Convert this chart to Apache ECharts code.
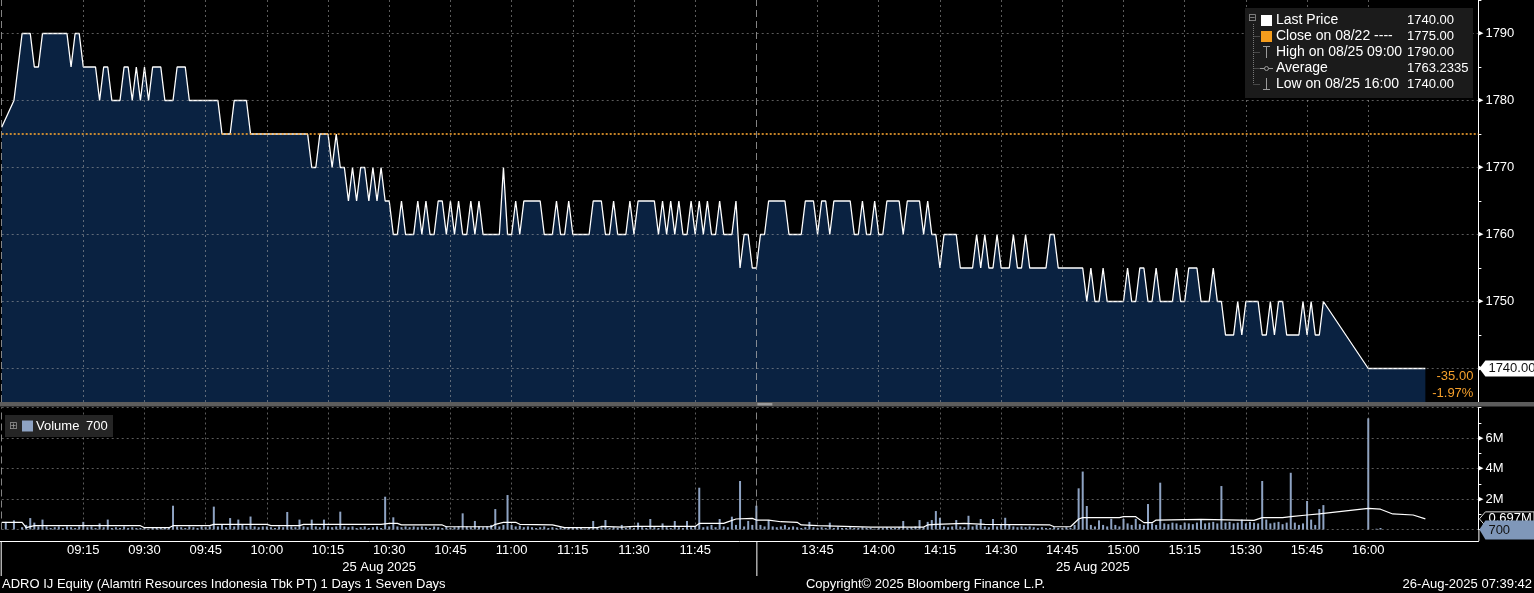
<!DOCTYPE html>
<html><head><meta charset="utf-8">
<script src="https://cdn.jsdelivr.net/npm/echarts@6/dist/echarts.min.js"></script>
<style>html,body{margin:0;padding:0;background:#000;overflow:hidden}#c{width:1534px;height:593px;}</style>
</head><body><div id="c"></div>
<script>
// ---------------- DATA ----------------
// Session layout (lunch break removed): 08:55 .. 12:00 | 13:31 .. 16:27
const amStart = '08:55', amEnd = '12:00', pmStart = '13:31', pmEnd = '16:27';
const tickLabels = ['09:15','09:30','09:45','10:00','10:15','10:30','10:45','11:00','11:15','11:30','11:45',
                    '13:45','14:00','14:15','14:30','14:45','15:00','15:15','15:30','15:45','16:00'];
const priceTicks = [1740, 1750, 1760, 1770, 1780, 1790];
const volumeTicks = [2, 4, 6];
const closePrice = 1775;
const averagePrice = '1763.2335';
const dateLabel = '25 Aug 2025';

// price path vertices (time, price)
const priceTimes = ['08:55','08:58','09:00','09:02','09:03','09:04','09:05','09:11','09:12','09:13','09:14','09:15','09:18','09:19','09:20','09:21','09:22','09:24','09:25','09:26','09:27','09:28','09:29','09:30','09:31','09:32','09:34','09:35','09:37','09:38','09:40','09:41','09:48','09:49','09:51','09:52','09:55','09:56',
'10:10','10:11','10:12','10:13','10:15','10:16','10:17','10:18','10:19','10:20','10:21','10:22','10:23','10:24','10:25','10:26','10:27','10:28','10:29','10:30','10:31','10:32','10:33','10:34','10:36','10:37','10:38','10:39','10:40','10:41','10:42','10:43','10:44','10:45','10:46','10:47','10:48','10:49','10:50','10:51','10:52','10:53','10:57','10:58','10:59',
'11:00','11:01','11:02','11:03','11:07','11:08','11:10','11:11','11:12','11:13','11:14','11:15','11:19','11:20','11:22','11:23','11:24','11:25','11:26','11:28','11:29','11:30','11:31','11:35','11:36','11:37','11:38','11:39','11:40','11:41','11:42','11:43','11:44','11:45','11:46','11:47','11:48','11:49','11:50','11:51','11:52','11:54','11:55','11:56','11:57','11:58','11:59','12:00',
'13:31','13:32','13:33','13:37','13:38','13:41','13:42','13:44','13:45','13:46','13:47','13:48','13:49','13:53','13:54','13:55','13:56','13:57','13:58','13:59','14:00','14:01','14:02','14:05','14:06','14:07','14:10','14:11','14:12','14:13','14:14','14:15','14:16','14:19','14:20','14:23','14:24','14:25','14:26','14:27','14:28','14:29','14:30','14:32','14:33','14:34','14:35','14:36','14:37','14:41','14:42','14:43','14:44','14:50','14:51','14:52','14:53','14:54','14:55','14:56',
'15:00','15:01','15:02','15:03','15:04','15:05','15:06','15:07','15:08','15:09','15:12','15:13','15:14','15:15','15:16','15:18','15:19','15:21','15:22','15:23','15:24','15:25','15:27','15:28','15:29','15:30','15:33','15:34','15:35','15:36','15:37','15:38','15:39','15:40','15:43','15:44','15:45','15:46','15:47','15:48','15:49','16:00','16:14'];
const priceValues = [1776,1780,1790,1790,1785,1785,1790,1790,1785,1790,1790,1785,1785,1780,1785,1785,1780,1780,1785,1785,1780,1785,1780,1785,1780,1785,1785,1780,1780,1785,1785,1780,1780,1775,1775,1780,1780,1775,
1775,1770,1770,1775,1775,1770,1775,1770,1770,1765,1770,1765,1770,1770,1765,1770,1765,1770,1765,1765,1760,1760,1765,1760,1760,1765,1760,1765,1760,1760,1765,1765,1760,1765,1760,1765,1760,1760,1765,1760,1765,1760,1760,1770,1760,
1760,1765,1760,1765,1765,1760,1760,1765,1760,1760,1765,1760,1760,1765,1765,1760,1760,1765,1760,1760,1765,1760,1765,1765,1760,1765,1760,1765,1760,1765,1760,1760,1765,1760,1765,1760,1765,1760,1760,1765,1760,1760,1765,1755,1760,1760,1755,1755,
1760,1760,1765,1765,1760,1760,1765,1765,1760,1765,1765,1760,1765,1765,1760,1760,1765,1760,1760,1765,1760,1760,1765,1765,1760,1765,1765,1760,1765,1760,1760,1755,1760,1760,1755,1755,1760,1755,1760,1755,1755,1760,1755,1755,1760,1755,1755,1760,1755,1755,1760,1760,1755,1755,1750,1755,1750,1750,1755,1750,
1750,1755,1750,1750,1755,1755,1750,1750,1755,1750,1750,1755,1750,1750,1755,1755,1750,1750,1755,1750,1750,1745,1745,1750,1745,1750,1750,1745,1745,1750,1745,1750,1750,1745,1745,1750,1745,1750,1745,1745,1750,1740,1740];

// volume per minute (millions), starting 08:55
const volumeValues = [
0,0.5,0,0.6,0,
0.15,0.3,0.75,0.45,0.2,0.65,0.2,0.1,0.15,0.2,0.1,0.2,0.15,0.1,0.2,
0.5,0.15,0.2,0.1,0.4,0.15,0.65,0.1,0.15,0.1,0.2,0.1,0.15,0.1,0.1,
0.1,0.05,0.1,0.15,0.1,0.1,0.15,1.56,0.2,0.15,0.1,0.2,0.15,0.1,0.2,
0.15,0.2,1.5,0.2,0.3,0.15,0.75,0.2,0.65,0.3,0.2,0.85,0.2,0.15,0.2,
0.2,0.15,0.1,0.2,0.15,1.15,0.2,0.15,0.65,0.2,0.15,0.65,0.2,0.15,0.65,
0.2,0.15,0.2,1.17,0.2,0.15,0.2,0.1,0.15,0.2,0.1,0.15,0.2,0.1,2.15,
0.2,0.8,0.2,0.15,0.2,0.15,0.2,0.15,0.2,0.15,0.1,0.2,0.15,0.1,0.2,
0.1,0.15,0.2,1.06,0.2,0.15,0.56,0.2,0.15,0.2,0.3,1.34,0.2,0.3,2.26,
0.3,0.2,0.25,0.15,0.2,0.15,0.1,0.15,0.2,0.1,0.15,0.1,0.15,0.1,0.1,
0.1,0.15,0.1,0.05,0.1,0.56,0.1,0.15,0.62,0.1,0.15,0.1,0.3,0.1,0.15,
0.1,0.45,0.15,0.1,0.69,0.15,0.1,0.4,0.15,0.1,0.56,0.15,0.1,0.56,0.15,
0.2,2.74,0.15,0.2,0.3,0.15,0.69,0.2,0.15,0.84,0.3,3.18,0.2,0.56,0.3,
1.56,
0.3,0.2,0.62,0.2,0.15,0.2,0.3,0.15,0.2,0.15,0.1,0.15,0.5,0.15,0.1,
0.15,0.1,0.45,0.1,0.15,0.1,0.1,0.15,0.1,0.1,0.15,0.1,0.1,0.05,0.1,
0.1,0.15,0.1,0.1,0.15,0.56,0.1,0.15,0.2,0.62,0.15,0.5,0.62,1.21,0.77,
0.2,0.15,0.2,0.62,0.2,0.15,0.9,0.2,0.3,0.69,0.2,0.15,0.69,0.2,0.3,
0.77,0.3,0.2,0.15,0.2,0.15,0.2,0.15,0.1,0.15,0.1,0.1,0.15,0.1,0.1,
0.15,0.1,0.3,2.7,3.8,1.54,0.3,0.2,0.6,0.3,0.2,0.7,0.3,0.2,0.7,
0.4,0.3,0.7,0.35,0.3,1.67,0.4,0.3,3.07,0.4,0.35,0.45,0.4,0.3,0.45,
0.4,0.35,0.45,0.65,0.4,0.45,0.5,0.4,2.85,0.45,0.5,0.4,0.45,0.65,0.4,
0.5,0.45,0.4,3.18,0.65,0.4,0.45,0.5,0.35,0.45,3.72,0.45,0.3,0.4,1.87,
0.65,0.3,1.34,1.6,0,0,0,0,0,0,0,0,0,0,7.29,
0,0.05,0.1,0,0,0,0,0,0,0,0,0,0,0.0007];

// volume moving-average line vertices (time, millions)
const maTimes = ['08:55','09:00','09:01','09:03','09:29','09:30','09:36','09:37','09:46','09:47','10:00','10:01','10:08','10:09','10:28','10:30','10:32','10:33','10:43','10:44','10:55','10:56','10:58','11:01','11:02','11:10','11:13','11:21','11:22','11:27','11:30','11:45','11:46','11:52','11:53','11:55','11:59','12:00',
'13:33','13:36','13:40','13:41','13:45','13:58','14:11','14:12','14:14','14:21','14:26','14:42','14:43','14:47','14:49','14:50','14:59','15:00','15:03','15:05','15:07','15:08','15:19','15:32','15:34','15:39','15:41','15:45','15:48','16:00','16:03','16:06','16:11','16:14'];
const maValues = [0.47,0.47,0.12,0.25,0.25,0.12,0.12,0.25,0.25,0.34,0.34,0.25,0.25,0.34,0.34,0.4,0.4,0.3,0.3,0.18,0.18,0.34,0.47,0.47,0.34,0.3,0.12,0.12,0.2,0.15,0.2,0.2,0.4,0.4,0.5,0.69,0.73,0.62,
0.62,0.51,0.47,0.3,0.26,0.16,0.16,0.3,0.34,0.4,0.34,0.3,0.18,0.18,0.69,0.78,0.78,0.84,0.84,0.45,0.45,0.62,0.67,0.6,0.78,0.78,0.84,0.95,1.02,1.39,1.33,1.02,0.95,0.697];

const footerLeft = 'ADRO IJ Equity (Alamtri Resources Indonesia Tbk PT) 1 Days 1 Seven Days';
const footerMid = 'Copyright\u00a9 2025 Bloomberg Finance L.P.';
const footerRight = '26-Aug-2025 07:39:42';

// ---------------- BUILD ----------------
function toMin(s){const p=s.split(':');return +p[0]*60+ +p[1];}
function hm(m){const h=Math.floor(m/60),mm=m%60;return (h<10?'0':'')+h+':'+(mm<10?'0':'')+mm;}
const categories=[];
for(let m=toMin(amStart);m<=toMin(amEnd);m++)categories.push(hm(m));
for(let m=toMin(pmStart);m<=toMin(pmEnd);m++)categories.push(hm(m));
const ci = s => categories.indexOf(s);

const pricePairs = priceTimes.map((t,i)=>[ci(t), priceValues[i]]);
const maPairs = maTimes.map((t,i)=>[ci(t), maValues[i]]);
const volumeData = volumeValues.slice();

const lastPrice = priceValues[priceValues.length-1];
const highPrice = Math.max(...priceValues), lowPrice = Math.min(...priceValues);
const highTime = priceTimes[priceValues.indexOf(highPrice)];
const lowTime = priceTimes[priceValues.indexOf(lowPrice)];
const lastVol = volumeValues[volumeValues.length-1];
const lastMA = maValues[maValues.length-1];
const change = lastPrice - closePrice;
const changePct = change / closePrice * 100;

const FONT = "'Liberation Sans', Arial, sans-serif";
const gridStyle = {color:'rgba(165,165,165,0.55)', type:[2,3], width:1};
const sepStyle = {color:'rgba(175,175,175,0.75)', type:[7,4], width:1};
const showTick = (idx, val) => tickLabels.indexOf(val) >= 0;

const option = {
  backgroundColor:'#000',
  animation:false,
  grid:[{left:1.7,right:55.6,top:0,height:402},{left:1.7,right:55.6,top:407.5,height:122}],
  xAxis:[
    {type:'category',gridIndex:0,data:categories,boundaryGap:false,axisLine:{show:false},axisTick:{show:false},axisLabel:{show:false},
     splitLine:{show:true,interval:showTick,lineStyle:gridStyle},z:3},
    {type:'category',gridIndex:1,data:categories,boundaryGap:false,offset:11.5,axisLine:{show:false},axisTick:{show:false},
     axisLabel:{show:true,interval:showTick,color:'#fff',fontSize:13,fontFamily:FONT,margin:3},
     splitLine:{show:true,interval:showTick,lineStyle:gridStyle},z:3}
  ],
  yAxis:[
    {type:'value',gridIndex:0,position:'right',min:1735,max:1795,interval:5,
     axisLine:{show:true,lineStyle:{color:'#fff',width:1}},axisTick:{show:true,length:3,lineStyle:{color:'#fff'}},
     axisLabel:{margin:0,formatter:v=>priceTicks.indexOf(v)>=0?'{a|\u25B6}{b|'+v+'}':'',
       rich:{a:{fontSize:7,color:'#fff',padding:[0,2,0,0]},b:{fontSize:13,color:'#fff',fontFamily:FONT}}},
     splitLine:{show:false}},
    {type:'value',gridIndex:1,position:'right',min:0,max:8,interval:2,
     axisLine:{show:true,lineStyle:{color:'#fff',width:1}},axisTick:{show:true,length:3,lineStyle:{color:'#fff'}},
     minorTick:{show:true,splitNumber:2,length:3,lineStyle:{color:'#fff'}},
     axisLabel:{margin:0,formatter:v=>volumeTicks.indexOf(v)>=0?'{a|\u25B6}{b|'+v+'M}':'',
       rich:{a:{fontSize:7,color:'#fff',padding:[0,2,0,0]},b:{fontSize:13,color:'#fff',fontFamily:FONT}}},
     splitLine:{show:true,lineStyle:gridStyle}}
  ],
  series:[
    {type:'line',xAxisIndex:0,yAxisIndex:0,data:pricePairs,symbol:'none',
     lineStyle:{color:'#fff',width:1.3},areaStyle:{color:'#0a2241',opacity:1,origin:'start'},z:2,
     markLine:{silent:true,symbol:['none','none'],label:{show:false},animation:false,
       data:[].concat(priceTicks.map(v=>({yAxis:v,lineStyle:gridStyle})),
         [{yAxis:closePrice,lineStyle:{color:'#f5a230',type:[2,2],width:1.6}},
          {xAxis:amEnd,lineStyle:sepStyle},{xAxis:amStart,lineStyle:sepStyle}])}},
    {type:'bar',xAxisIndex:1,yAxisIndex:1,data:volumeData,barWidth:2,itemStyle:{color:'#8ea3c3'},z:2,
     markLine:{silent:true,symbol:['none','none'],label:{show:false},animation:false,
       data:[{xAxis:amEnd,lineStyle:sepStyle},{xAxis:amStart,lineStyle:sepStyle}]}},
    {type:'line',xAxisIndex:1,yAxisIndex:1,data:maPairs,symbol:'none',lineStyle:{color:'#fff',width:1.2},z:4}
  ]
};

const chart = echarts.init(document.getElementById('c'));
chart.setOption(option);

// ---------------- DECORATIONS ----------------
const P = (t,v) => chart.convertToPixel({xAxisIndex:0,yAxisIndex:0},[ci(t),v]);
const V = (t,v) => chart.convertToPixel({xAxisIndex:1,yAxisIndex:1},[ci(t),v]);
const axisX = P(pmEnd, lastPrice)[0];
const leftX = P(amStart, lastPrice)[0];
const sepX = P(amEnd, lastPrice)[0];
const yLast = P(amStart, lastPrice)[1];
const yZeroV = V(amStart, 0)[1];
const yMA = V(amStart, lastMA)[1];
const yLV = V(amStart, lastVol)[1];
const baseY = yZeroV + 11.5;
const g = [];
function T(x,y,s,o){g.push({type:'text',silent:true,z:100,style:Object.assign({text:s,x:x,y:y,fill:'#fff',font:'13px '+FONT,align:'left',verticalAlign:'middle',textAlign:'left',textVerticalAlign:'middle'},o||{})});}
function R(x,y,w,h,f){g.push({type:'rect',silent:true,z:99,shape:{x:x,y:y,width:w,height:h},style:{fill:f}});}
function L(x1,y1,x2,y2,c,d,w){g.push({type:'line',silent:true,z:100,shape:{x1:x1,y1:y1,x2:x2,y2:y2},style:{stroke:c,lineWidth:w||1,lineDash:d||null}});}
function PG(pts,f,s){g.push({type:'polygon',silent:true,z:100,shape:{points:pts},style:{fill:f,stroke:s||null}});}

// legend box (price)
R(1245,8,228,90,'#1b1b1b');
T(1248,18,'\u229F',{fill:'#9a9a9a',font:'10px DejaVu Sans'});
const rowsY=[20,36,52,68,84];
L(1253.5,24,1253.5,rowsY[4],'#777',[1,1]);
for(let i=1;i<5;i++)L(1253.5,rowsY[i]+0.5,1260,rowsY[i]+0.5,'#777',[1,1]);
R(1261,15,11,11,'#ffffff');
R(1261,31,11,11,'#f59d1d');
L(1266.5,46,1266.5,58,'#9a9a9a');L(1263,46.5,1270,46.5,'#9a9a9a');
L(1260,68.5,1273,68.5,'#9a9a9a');g.push({type:'circle',silent:true,z:101,shape:{cx:1266.5,cy:68.5,r:2},style:{fill:'#1b1b1b',stroke:'#9a9a9a'}});
L(1266.5,78,1266.5,90,'#9a9a9a');L(1263,89.5,1270,89.5,'#9a9a9a');
const legendRows=[
 ['Last Price', lastPrice.toFixed(2)],
 ['Close on 08/22 ----', closePrice.toFixed(2)],
 ['High on 08/25 '+highTime, highPrice.toFixed(2)],
 ['Average', averagePrice],
 ['Low on 08/25 '+lowTime, lowPrice.toFixed(2)]];
legendRows.forEach((r,i)=>{T(1276,rowsY[i],r[0],{font:'14px '+FONT});T(1407,rowsY[i],r[1],{font:'13px '+FONT});});

// last price tag
PG([[axisX+1,yLast],[axisX+7,yLast-8],[1534,yLast-8],[1534,yLast+8],[axisX+7,yLast+8]],'#ffffff');
T(axisX+10,yLast,lastPrice.toFixed(2),{fill:'#111',font:'13px '+FONT});
T(axisX-5,yLast+8,change.toFixed(2),{fill:'#f7a12c',align:'right',textAlign:'right',font:'13px '+FONT});
T(axisX-5,yLast+25,changePct.toFixed(2)+'%',{fill:'#f7a12c',align:'right',textAlign:'right',font:'13px '+FONT});

// panel separator band
R(0,402,1534,4.5,'#5c5c5c');
R(sepX+1,403,15,2.5,'#9a9a9a');

// volume legend
R(5,415,108,22,'#252525');
T(9,426,'\u229E',{fill:'#9a9a9a',font:'10px DejaVu Sans'});
R(22,420.5,11,11,'#8ea3c3');
T(36,426,'Volume',{font:'13px '+FONT});
T(86,426,String(Math.round(lastVol*1e6)),{font:'13px '+FONT});

// volume value tags
PG([[axisX+1,yMA],[axisX+7,yMA-7],[1534,yMA-7],[1534,yMA+7],[axisX+7,yMA+7]],'#000','#ddd');
T(axisX+10,yMA,lastMA.toFixed(3)+'M',{font:'13px '+FONT});
PG([[axisX+1,yLV],[axisX+7,yLV-9],[1534,yLV-9],[1534,yLV+10],[axisX+7,yLV+10]],'#7f97b9');
T(axisX+10,yLV+1,String(Math.round(lastVol*1e6)),{fill:'#111',font:'13px '+FONT});

// bottom frame
L(axisX+0.5,yZeroV,axisX+0.5,baseY,'#fff');
L(0,baseY+0.5,axisX+0.5,baseY+0.5,'#fff');
L(leftX-0.5,baseY,leftX-0.5,baseY+35,'#fff');
L(sepX+0.5,baseY,sepX+0.5,baseY+35,'#fff');
const d2 = (sepX + P('16:15',lastPrice)[0])/2;
T((leftX+sepX)/2,567,dateLabel,{align:'center',textAlign:'center'});
T(d2,567,dateLabel,{align:'center',textAlign:'center'});
T(2,584,footerLeft);
T(925.5,584,footerMid,{align:'center',textAlign:'center'});
T(1532,584,footerRight,{align:'right',textAlign:'right'});

chart.setOption({graphic:{elements:g}});
</script></body></html>
